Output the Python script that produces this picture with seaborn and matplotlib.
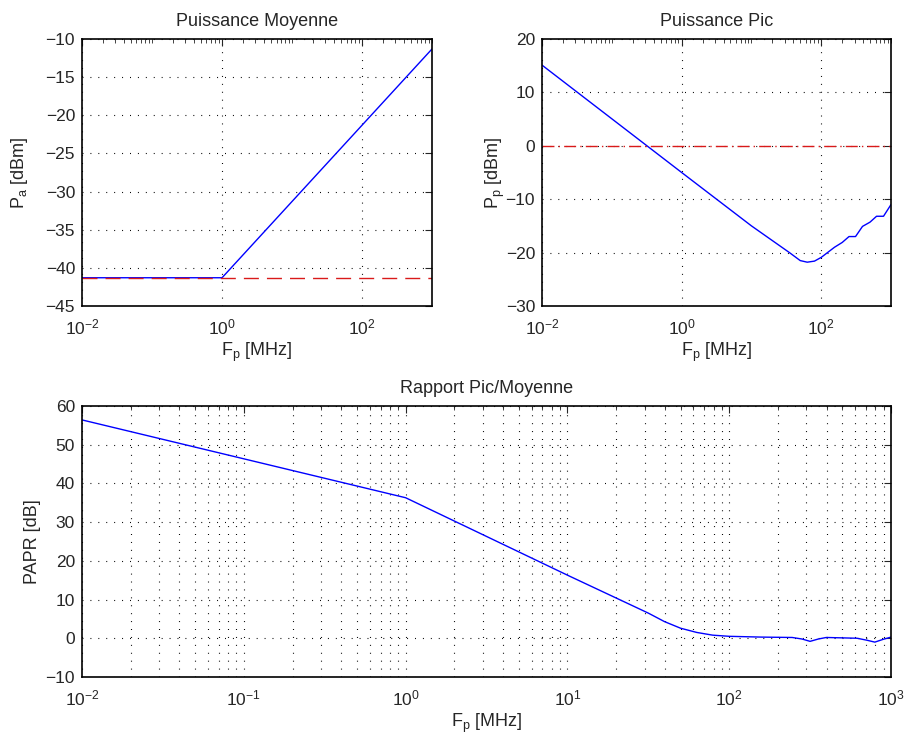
import numpy as np
import pandas as pd
import matplotlib
matplotlib.use("Agg")
import matplotlib.pyplot as plt
import matplotlib.ticker as ticker
import seaborn as sns

# data
freq_pa = [0.01, 1.0, 1000.0]
pa_dbm = [-41.3, -41.3, -11.3]
pa_floor = -41.3

freq_pp = [0.01, 1.0, 10.0, 35.0, 50.0, 63.0, 80.0, 100.0, 155.0, 200.0,
           250.0, 310.0, 390.0, 500.0, 620.0, 780.0, 1000.0]
pp_dbm = [15.1, -5.0, -15.0, -20.0, -21.5, -21.8, -21.6, -20.9, -19.0, -18.1,
          -17.0, -17.0, -15.1, -14.3, -13.2, -13.2, -11.0]
pp_ref = 0.0

freq_papr = [0.01, 1.0, 10.0, 31.6, 39.8, 50.0, 63.0, 79.0, 100.0, 158.0,
             245.0, 282.0, 316.0, 355.0, 398.0, 500.0, 617.0, 708.0, 794.0,
             891.0, 1000.0]
papr_db = [56.4, 36.3, 16.3, 6.5, 4.3, 2.6, 1.5, 0.8, 0.5, 0.3,
           0.2, -0.2, -0.8, -0.2, 0.2, 0.1, 0.0, -0.5, -1.0, -0.3, 0.3]

sns.set_style("white")
plt.rcParams['font.family'] = ['Liberation Sans', 'DejaVu Sans']
plt.rcParams['mathtext.fontset'] = 'custom'
plt.rcParams['mathtext.rm'] = 'Liberation Sans'
plt.rcParams['mathtext.it'] = 'Liberation Sans:italic'
plt.rcParams['lines.scale_dashes'] = False

tick_fs = 12.5
label_fs = 13
grid_ls = (0, (0.7, 5.0))
blue = (0.0, 0.0, 1.0)
red = (0.85, 0.1, 0.1)


def style_axes(ax, major_base, minor_grid):
    ax.set_xscale('log')
    ax.set_xlim(1e-2, 1e3)
    ax.xaxis.set_major_locator(ticker.LogLocator(base=major_base))
    ax.xaxis.set_minor_locator(ticker.LogLocator(base=10, subs=np.arange(1, 10), numticks=50))
    ax.xaxis.set_minor_formatter(ticker.NullFormatter())
    ax.tick_params(which='both', direction='in', top=True, right=True, labelsize=tick_fs)
    ax.tick_params(which='major', length=5, width=0.8)
    ax.tick_params(which='minor', length=3, width=0.6)
    ax.tick_params(axis='x', which='major', pad=8)
    ax.tick_params(axis='y', which='major', pad=5)
    for s in ax.spines.values():
        s.set_linewidth(1.2)
        s.set_color('k')
    ax.grid(True, which='major', linestyle=grid_ls, color='k', linewidth=0.8)
    if minor_grid:
        ax.grid(True, which='minor', axis='x', linestyle=grid_ls, color='k', linewidth=0.8)


fig = plt.figure(figsize=(9.07, 7.38), dpi=100)
ax1 = fig.add_axes([0.0904, 0.5854, 0.386, 0.3618])
ax2 = fig.add_axes([0.5976, 0.5854, 0.3848, 0.3618])
ax3 = fig.add_axes([0.0904, 0.0827, 0.892, 0.3672])

# Puissance moyenne
sns.lineplot(x=freq_pa, y=pa_dbm, ax=ax1, color=blue, linewidth=1.0)
ax1.axhline(pa_floor, color=red, linestyle=(0, (10.8, 5.8)), linewidth=1.0)
style_axes(ax1, 100, False)
ax1.set_ylim(-45, -10)
ax1.yaxis.set_major_locator(ticker.MultipleLocator(5))
ax1.set_title("Puissance Moyenne", fontsize=label_fs, pad=9)
ax1.set_xlabel(r"F$_{\rm p}$ [MHz]", fontsize=label_fs, labelpad=3)
ax1.set_ylabel(r"P$_{\rm a}$ [dBm]", fontsize=label_fs, labelpad=11)

# Puissance pic
sns.lineplot(x=freq_pp, y=pp_dbm, ax=ax2, color=blue, linewidth=1.0)
ax2.axhline(pp_ref, color=red, linestyle=(0, (8.6, 3.0, 1.0, 3.0)), linewidth=1.0)
style_axes(ax2, 100, False)
ax2.set_ylim(-30, 20)
ax2.yaxis.set_major_locator(ticker.MultipleLocator(10))
ax2.set_title("Puissance Pic", fontsize=label_fs, pad=9)
ax2.set_xlabel(r"F$_{\rm p}$ [MHz]", fontsize=label_fs, labelpad=3)
ax2.set_ylabel(r"P$_{\rm p}$ [dBm]", fontsize=label_fs, labelpad=-1)

# Rapport pic/moyenne
sns.lineplot(x=freq_papr, y=papr_db, ax=ax3, color=blue, linewidth=1.0)
style_axes(ax3, 10, True)
ax3.set_ylim(-10, 60)
ax3.yaxis.set_major_locator(ticker.MultipleLocator(10))
ax3.set_title("Rapport Pic/Moyenne", fontsize=label_fs, pad=9)
ax3.set_xlabel(r"F$_{\rm p}$ [MHz]", fontsize=label_fs, labelpad=3)
ax3.set_ylabel("PAPR [dB]", fontsize=label_fs, labelpad=3)

fig.savefig("out.png", dpi=100)
